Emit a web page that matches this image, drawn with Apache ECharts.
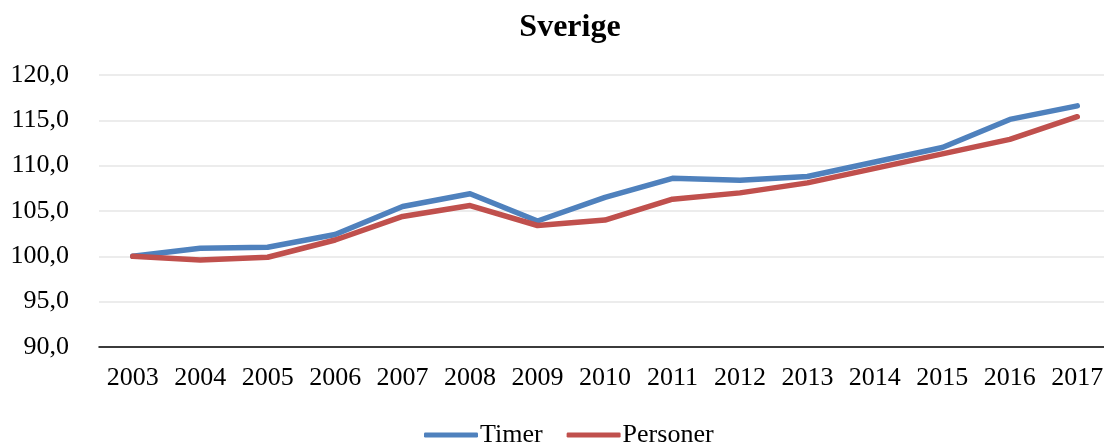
<!DOCTYPE html>
<html>
<head>
<meta charset="utf-8">
<script src="https://cdn.jsdelivr.net/npm/echarts@6/dist/echarts.min.js"></script>
<style>
  html, body { margin: 0; padding: 0; background: #fff; }
  #main { width: 1104px; height: 443px; }
</style>
</head>
<body>
<div id="main"></div>
<script>
// years on the x axis
var years = ['2003', '2004', '2005', '2006', '2007', '2008', '2009', '2010',
  '2011', '2012', '2013', '2014', '2015', '2016', '2017'];
// index values, 2003 = 100
var timer = [100.0, 100.9, 101.0, 102.4, 105.5, 106.9, 103.9, 106.5,
  108.6, 108.4, 108.8, 110.4, 112.0, 115.1, 116.6];
var personer = [100.0, 99.6, 99.9, 101.8, 104.4, 105.6, 103.4, 104.0,
  106.3, 107.0, 108.1, 109.7, 111.3, 112.9, 115.4];

var font = '"Liberation Serif", "Times New Roman", serif';
var chart = echarts.init(document.getElementById('main'));

var option = {
  animation: false,
  title: {
    text: 'Sverige',
    left: 565,
    textAlign: 'center',
    top: 7,
    textStyle: { fontFamily: font, fontSize: 32, fontWeight: 'bold', color: '#000' }
  },
  legend: {
    left: 419,
    top: 417,
    itemWidth: 54,
    itemHeight: 5,
    itemGap: 24,
    icon: 'roundRect',
    textStyle: { fontFamily: font, fontSize: 26, color: '#000', padding: [0, 0, 0, -3] },
    data: ['Timer', 'Personer']
  },
  grid: { left: 99, top: 75, width: 1012, height: 272, outerBoundsMode: 'none' },
  xAxis: {
    type: 'category',
    data: years,
    boundaryGap: true,
    axisLine: { lineStyle: { color: '#000', width: 1.5 } },
    axisTick: { show: false },
    axisLabel: { interval: 0, hideOverlap: false, fontFamily: font, fontSize: 26, color: '#000', margin: 18 }
  },
  yAxis: {
    type: 'value',
    min: 90,
    max: 120,
    interval: 5,
    axisLine: { show: false },
    axisTick: { show: false },
    splitLine: { lineStyle: { color: '#e6e6e6', width: 1.5 } },
    axisLabel: {
      fontFamily: font, fontSize: 26, color: '#000', margin: 30,
      formatter: function (v) { return v.toFixed(1).replace('.', ','); }
    }
  },
  series: [
    {
      name: 'Timer',
      type: 'line',
      data: timer,
      symbol: 'none',
      color: '#4F81BD',
      lineStyle: { width: 5.5, cap: 'round', join: 'round' }
    },
    {
      name: 'Personer',
      type: 'line',
      data: personer,
      symbol: 'none',
      color: '#C0504D',
      lineStyle: { width: 5.5, cap: 'round', join: 'round' }
    }
  ]
};
chart.setOption(option);
</script>
</body>
</html>
